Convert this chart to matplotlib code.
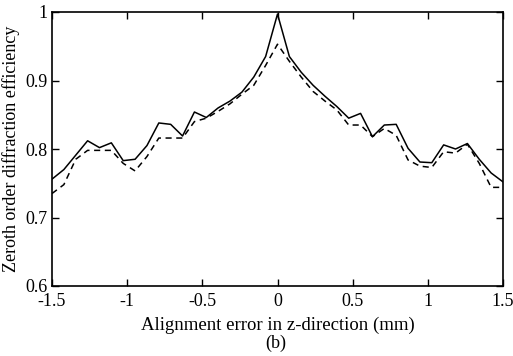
import numpy as np
import matplotlib
matplotlib.use('Agg')
import matplotlib.pyplot as plt

plt.rcParams['font.family'] = ['Liberation Serif', 'DejaVu Serif']

# sample positions (mm), 39 points from -1.5 to 1.5
z = np.linspace(-1.5, 1.5, 39)

# solid curve
eff_solid = [0.756, 0.770, 0.791, 0.812, 0.802, 0.809, 0.783, 0.785, 0.805, 0.838,
             0.836, 0.819, 0.854, 0.846, 0.860, 0.870, 0.883, 0.905, 0.935, 0.997,
             0.935, 0.912, 0.893, 0.877, 0.862, 0.845, 0.852, 0.818, 0.835, 0.836,
             0.801, 0.781, 0.780, 0.806, 0.800, 0.808, 0.785, 0.765, 0.752]

# dashed curve
eff_dashed = [0.735, 0.748, 0.785, 0.798, 0.798, 0.798, 0.779, 0.768, 0.789, 0.816,
              0.816, 0.816, 0.840, 0.845, 0.855, 0.866, 0.880, 0.893, 0.922, 0.953,
              0.928, 0.905, 0.884, 0.870, 0.857, 0.835, 0.835, 0.818, 0.830, 0.820,
              0.784, 0.775, 0.773, 0.796, 0.794, 0.807, 0.779, 0.744, 0.744]

xticks = [-1.5, -1, -0.5, 0, 0.5, 1, 1.5]
xtick_labels = ['-1.5', '-1', '-0.5', '0', '0.5', '1', '1.5']
yticks = [0.6, 0.7, 0.8, 0.9, 1.0]
ytick_labels = ['0.6', '0.7', '0.8', '0.9', '1']

fig = plt.figure(figsize=(5.13, 3.56), dpi=100)
ax = fig.add_axes([52/513, 70/356, 451/513, 274/356])

ax.plot(z, eff_solid, color='black', lw=1.1, ls='-')
ax.plot(z, eff_dashed, color='black', lw=1.1, ls=(0, (4, 3)))

ax.set_xlim(-1.5, 1.5)
ax.set_ylim(0.6, 1.0)
ax.set_xticks(xticks)
ax.set_xticklabels(xtick_labels)
ax.set_yticks(yticks)
ax.set_yticklabels(ytick_labels)
ax.tick_params(direction='in', length=5, width=1, top=True, right=True,
               labelsize=13)
ax.tick_params(axis='x', pad=5)
ax.tick_params(axis='y', pad=3)
for s in ax.spines.values():
    s.set_linewidth(1.2)

ax.set_xlabel('Alignment error in z-direction (mm)', fontsize=13.5, labelpad=5)
ax.set_ylabel('Zeroth order diffraction efficiency', fontsize=13, labelpad=4)
fig.text(276/513, 1 - 343/356, '(b)', ha='center', va='center', fontsize=13)

fig.savefig('out.png', dpi=100)
